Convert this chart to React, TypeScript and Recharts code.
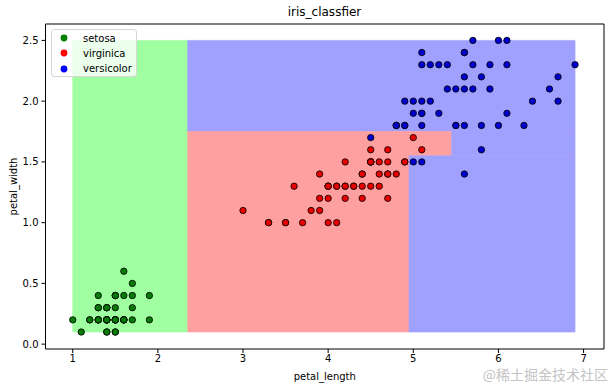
import React from 'react';
import { ScatterChart, Scatter, XAxis, YAxis, ReferenceArea } from 'recharts';

// iris petal measurements [petal_length, petal_width]
const setosa: [number, number][] = [
  [1.4, 0.2], [1.4, 0.2], [1.3, 0.2], [1.5, 0.2], [1.4, 0.2], [1.7, 0.4], [1.4, 0.3], [1.5, 0.2], [1.4, 0.2], [1.5, 0.1],
  [1.5, 0.2], [1.6, 0.2], [1.4, 0.1], [1.1, 0.1], [1.2, 0.2], [1.5, 0.4], [1.3, 0.4], [1.4, 0.3], [1.7, 0.3], [1.5, 0.3],
  [1.7, 0.2], [1.5, 0.4], [1.0, 0.2], [1.7, 0.5], [1.9, 0.2], [1.6, 0.2], [1.6, 0.4], [1.5, 0.2], [1.4, 0.2], [1.6, 0.2],
  [1.6, 0.2], [1.5, 0.4], [1.5, 0.1], [1.4, 0.2], [1.5, 0.2], [1.2, 0.2], [1.3, 0.2], [1.4, 0.1], [1.3, 0.2], [1.5, 0.2],
  [1.3, 0.3], [1.3, 0.3], [1.3, 0.2], [1.6, 0.6], [1.9, 0.4], [1.4, 0.3], [1.6, 0.2], [1.4, 0.2], [1.5, 0.2], [1.4, 0.2],
];
const virginica: [number, number][] = [
  [4.7, 1.4], [4.5, 1.5], [4.9, 1.5], [4.0, 1.3], [4.6, 1.5], [4.5, 1.3], [4.7, 1.6], [3.3, 1.0], [4.6, 1.3], [3.9, 1.4],
  [3.5, 1.0], [4.2, 1.5], [4.0, 1.0], [4.7, 1.4], [3.6, 1.3], [4.4, 1.4], [4.5, 1.5], [4.1, 1.0], [4.5, 1.5], [3.9, 1.1],
  [4.8, 1.8], [4.0, 1.3], [4.9, 1.5], [4.7, 1.2], [4.3, 1.3], [4.4, 1.4], [4.8, 1.4], [5.0, 1.7], [4.5, 1.5], [3.5, 1.0],
  [3.8, 1.1], [3.7, 1.0], [3.9, 1.2], [5.1, 1.6], [4.5, 1.5], [4.5, 1.6], [4.7, 1.5], [4.4, 1.3], [4.1, 1.3], [4.0, 1.3],
  [4.4, 1.2], [4.6, 1.4], [4.0, 1.2], [3.3, 1.0], [4.2, 1.3], [4.2, 1.2], [4.2, 1.3], [4.3, 1.3], [3.0, 1.1], [4.1, 1.3],
];
const versicolor: [number, number][] = [
  [6.0, 2.5], [5.1, 1.9], [5.9, 2.1], [5.6, 1.8], [5.8, 2.2], [6.6, 2.1], [4.5, 1.7], [6.3, 1.8], [5.8, 1.8], [6.1, 2.5],
  [5.1, 2.0], [5.3, 1.9], [5.5, 2.1], [5.0, 2.0], [5.1, 2.4], [5.3, 2.3], [5.5, 1.8], [6.7, 2.2], [6.9, 2.3], [5.0, 1.5],
  [5.7, 2.3], [4.9, 2.0], [6.7, 2.0], [4.9, 1.8], [5.7, 2.1], [6.0, 1.8], [4.8, 1.8], [4.9, 1.8], [5.6, 2.1], [5.8, 1.6],
  [6.1, 1.9], [6.4, 2.0], [5.6, 2.2], [5.1, 1.5], [5.6, 1.4], [6.1, 2.3], [5.6, 2.4], [5.5, 1.8], [4.8, 1.8], [5.4, 2.1],
  [5.6, 2.4], [5.1, 2.3], [5.1, 1.9], [5.9, 2.3], [5.7, 2.5], [5.2, 2.3], [5.0, 1.9], [5.2, 2.0], [5.4, 2.3], [5.1, 1.8],
];

// decision regions [x1, x2, y1, y2, class]
const regions: [number, number, number, number, number][] = [
  [1.0, 2.35, 0.1, 2.5, 0],
  [2.35, 6.9, 1.75, 2.5, 2],
  [2.35, 4.95, 0.1, 1.75, 1],
  [4.95, 5.45, 1.55, 1.75, 1],
  [4.95, 6.9, 0.1, 1.55, 2],
  [5.45, 6.9, 1.55, 1.75, 2],
];

const xTicks = [1, 2, 3, 4, 5, 6, 7];
const yTicks = [0, 0.5, 1.0, 1.5, 2.0, 2.5];
const xDomain: [number, number] = [0.68, 7.24];
const yDomain: [number, number] = [-0.04, 2.635];

const classNames = ['setosa', 'virginica', 'versicolor'];
const regionColors = ['#a0ffa0', '#ffa0a0', '#a0a0ff'];
const pointColors = ['#067a06', '#e60000', '#0000cc'];
const legendColors = ['#008000', '#ff0000', '#0000ff'];

const font = '"DejaVu Sans", sans-serif';

const toPoints = (arr: [number, number][]) => arr.map(([x, y]) => ({ x, y }));

const dot = (color: string) => (props: any) => (
  <circle cx={props.cx} cy={props.cy} r={3.2} fill={color} stroke="#000" strokeWidth={0.8} />
);

export default function App() {
  const series = [setosa, virginica, versicolor];
  return (
    <div style={{ position: 'absolute', left: 0, top: 0, width: 613, height: 388, background: '#fff', fontFamily: font }}>
      <div style={{ position: 'absolute', left: 45, width: 559, top: 5, textAlign: 'center', fontSize: 12, lineHeight: '14px', color: '#000' }}>
        iris_classfier
      </div>
      <ScatterChart width={613} height={388} margin={{ top: 24, right: 9, bottom: 0, left: 0 }}>
        <XAxis
          type="number"
          dataKey="x"
          domain={xDomain}
          allowDataOverflow
          ticks={xTicks}
          height={39}
          axisLine={false}
          tickSize={4}
          tickMargin={2}
          tickLine={{ stroke: '#000' }}
          tick={{ fill: '#000', fontSize: 10, fontFamily: font }}
          label={{ value: 'petal_length', position: 'insideBottom', offset: 8, fill: '#000', fontSize: 10, fontFamily: font }}
        />
        <YAxis
          type="number"
          dataKey="y"
          domain={yDomain}
          allowDataOverflow
          ticks={yTicks}
          width={45.5}
          axisLine={false}
          tickSize={4}
          tickMargin={3}
          tickLine={{ stroke: '#000' }}
          tickFormatter={(v: number) => v.toFixed(1)}
          tick={{ fill: '#000', fontSize: 10, fontFamily: font }}
          label={{ value: 'petal_width', angle: -90, position: 'insideLeft', offset: 13, fill: '#000', fontSize: 10, fontFamily: font, style: { textAnchor: 'middle' } }}
        />
        {regions.map(([x1, x2, y1, y2, c], i) => (
          <ReferenceArea
            key={`r-${i}`}
            x1={x1}
            x2={x2}
            y1={y1}
            y2={y2}
            fill={regionColors[c]}
            fillOpacity={1}
            stroke={regionColors[c]}
            strokeWidth={0.6}
          />
        ))}
        {series.map((s, i) => (
          <Scatter
            key={classNames[i]}
            name={classNames[i]}
            data={toPoints(s)}
            shape={dot(pointColors[i])}
            isAnimationActive={false}
          />
        ))}
        <ReferenceArea x1={xDomain[0]} x2={xDomain[1]} y1={yDomain[0]} y2={yDomain[1]} fill="none" stroke="#000" strokeWidth={1} />
      </ScatterChart>
      <div
        style={{
          position: 'absolute',
          left: 51,
          top: 29,
          width: 84,
          height: 46,
          background: 'rgba(255,255,255,0.8)',
          border: '1px solid #d6d6d6',
          borderRadius: 3,
        }}
      >
        {classNames.map((n, i) => (
          <div key={n} style={{ position: 'absolute', left: 8, top: 1 + i * 15.3, height: 14, display: 'flex', alignItems: 'center', fontSize: 10, color: '#000' }}>
            <svg width={8} height={8} style={{ marginRight: 15 }}>
              <circle cx={4} cy={4} r={3.4} fill={legendColors[i]} />
            </svg>
            <span>{n}</span>
          </div>
        ))}
      </div>
      <div style={{ position: 'absolute', right: 5, top: 366, fontSize: 14, lineHeight: '17px', color: '#c4c4c4', fontFamily: '"Noto Sans CJK SC", sans-serif' }}>
        @稀土掘金技术社区
      </div>
    </div>
  );
}
